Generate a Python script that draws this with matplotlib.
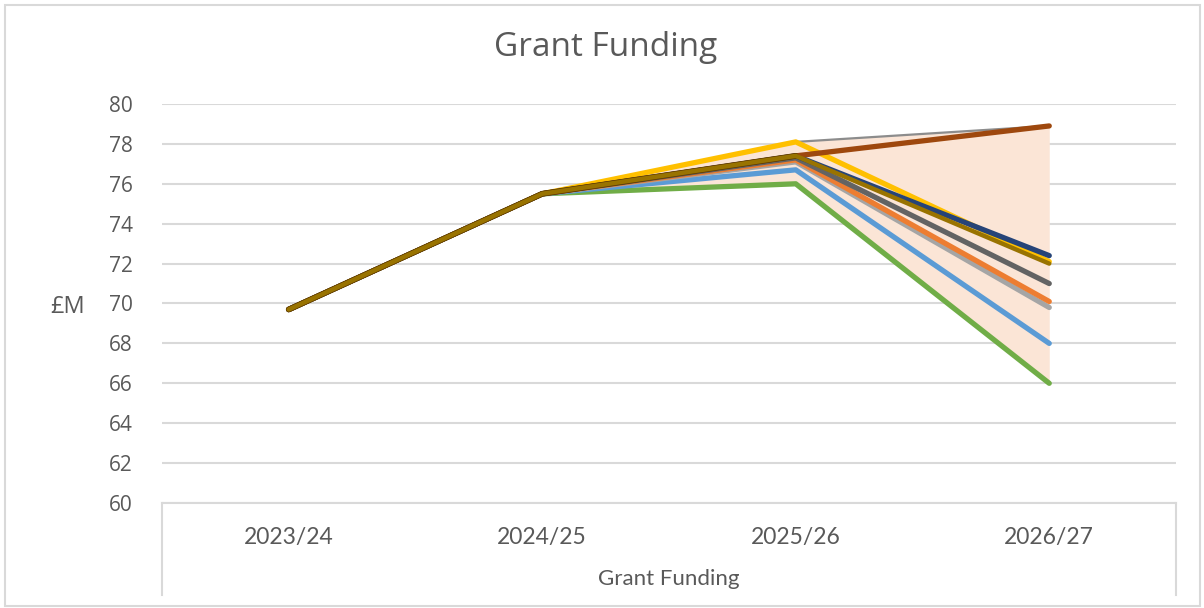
import numpy as np
import matplotlib.pyplot as plt
from matplotlib.patches import Rectangle

# Categories and scenario values (£M)
years = ["2023/24", "2024/25", "2025/26", "2026/27"]

green = [69.7, 75.5, 76.0, 66.0]
light_blue = [69.7, 75.5, 76.7, 68.0]
grey = [69.7, 75.5, 77.1, 69.8]
orange = [69.7, 75.5, 77.2, 70.1]
dark_grey = [69.7, 75.5, 77.3, 71.0]
gold = [69.7, 75.5, 78.1, 72.1]
dark_blue = [69.7, 75.5, 77.4, 72.4]
brown = [69.7, 75.5, 77.4, 78.9]
olive = [69.7, 75.5, 77.4, 72.0]

# upper edge of the shaded range
range_top = [75.5, 78.1, 78.9]

text_col = "#595959"
grid_col = "#D9D9D9"

fig = plt.figure(figsize=(12.04, 6.08), dpi=100)
ax = fig.add_axes([162 / 1204, 1 - 503 / 608, 1014 / 1204, 399 / 608])

x = np.arange(len(years))
allv = np.array([green, light_blue, grey, orange, dark_grey, gold, dark_blue, brown, olive])

# shaded range between lowest and highest scenario
ax.fill_between(x[1:], allv.min(axis=0)[1:], allv.max(axis=0)[1:],
                color="#FBE5D6", lw=0, zorder=1)
ax.plot(x[1:], range_top, color="#8C8C8C", lw=1.6, zorder=2)

series = [
    (green, "#70AD47"),
    (light_blue, "#5B9BD5"),
    (grey, "#A5A5A5"),
    (orange, "#ED7D31"),
    (dark_grey, "#636363"),
    (gold, "#FFC000"),
    (dark_blue, "#264478"),
]
for vals, col in series:
    ax.plot(x, vals, color=col, lw=3.8, solid_capstyle="round", zorder=3)

ax.plot(x, brown, color="#9E480E", lw=3.8, solid_capstyle="round", zorder=4)
ax.plot(x[:3], olive[:3], color="#5C3A00", lw=4.2, solid_capstyle="round", zorder=4)
ax.plot(x, olive, color="#997300", lw=3.2, solid_capstyle="round", zorder=5)

ax.set_xlim(-0.5, 3.5)
ax.set_ylim(60, 80)
ax.set_yticks(np.arange(60, 81, 2))
ax.set_xticks(x)
ax.set_xticklabels(years)
ax.yaxis.grid(True, color=grid_col, lw=1.5)
ax.set_axisbelow(True)
for s in ["top", "right", "left"]:
    ax.spines[s].set_visible(False)
ax.spines["bottom"].set_color(grid_col)
ax.spines["bottom"].set_linewidth(1.5)
ax.tick_params(axis="both", length=0, colors=text_col)
ax.tick_params(axis="y", pad=21)
ax.tick_params(axis="x", pad=17)
for lab in ax.get_yticklabels():
    lab.set_fontfamily("Open Sans")
    lab.set_fontsize(15)
for lab in ax.get_xticklabels():
    lab.set_fontfamily("Lato")
    lab.set_fontsize(16.5)

# category axis box lines
for xx in (0, 1):
    ax.plot([xx, xx], [0, -0.23], transform=ax.transAxes, color=grid_col,
            lw=1.5, clip_on=False)

ax.text(0.5, -0.19, "Grant Funding", transform=ax.transAxes, ha="center",
        va="center", fontsize=16, color=text_col, family="Lato")
fig.text(68 / 1204, 1 - 307 / 608, "£M", ha="center", va="center",
         fontsize=17, color=text_col, family="Open Sans")
fig.text(606 / 1204, 1 - 48 / 608, "Grant Funding", ha="center", va="center",
         fontsize=24, color=text_col, family="Open Sans")

# chart border
fig.add_artist(Rectangle((5 / 1204, 2 / 608), 1195 / 1204, 601 / 608,
                         transform=fig.transFigure, fill=False,
                         edgecolor=grid_col, lw=1.5))

fig.savefig("out.png", dpi=100)
